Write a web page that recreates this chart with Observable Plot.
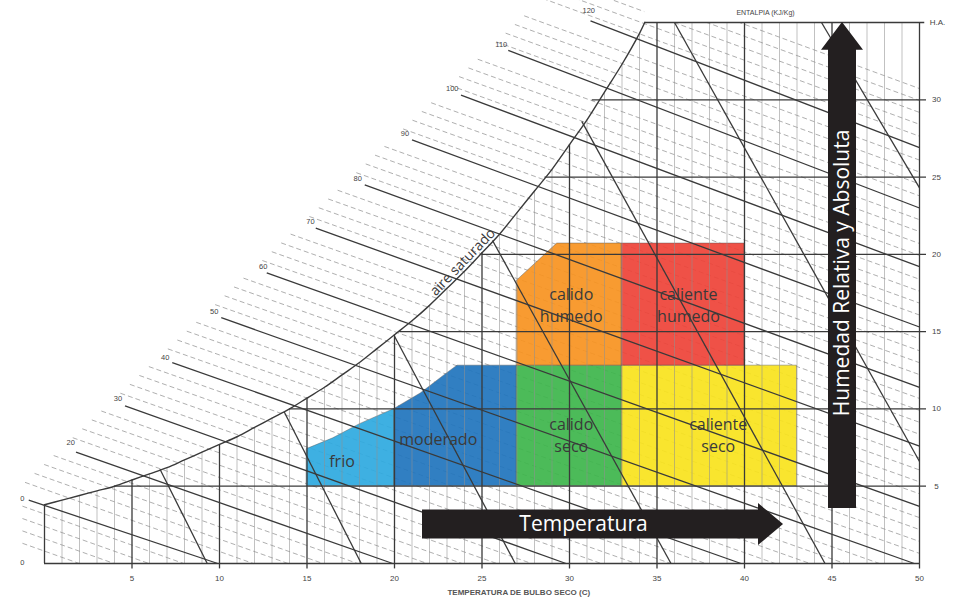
<!DOCTYPE html>
<html><head><meta charset="utf-8">
<script src="https://cdn.jsdelivr.net/npm/d3@7"></script>
<script src="https://cdn.jsdelivr.net/npm/@observablehq/plot@0.6"></script>
<style>
html,body{margin:0;padding:0;background:#fff;}
#chart svg{display:block;}
</style></head><body><div id="chart"></div>
<script>
// ---------- axes / tick labels ----------
const xTicks = [5,10,15,20,25,30,35,40,45,50];
const yTicks = [5,10,15,20,25,30];
const yTickStartT = [4.0,14.0,20.3,25.0,28.6,31.3]; // where each H.A. row meets the saturation curve

// ---------- saturation curve (dry bulb °C, humidity ratio g/kg) ----------
const satT = [0,1,2,3,4,5,6,7,8,9,10,11,12,13,14,15,16,17,18,19,20,21,22,23,24,25,26,27,28,29,30,31,32,33,34,34.3];
const satW = [3.8,4.1,4.4,4.7,5.0,5.4,5.8,6.2,6.7,7.2,7.7,8.2,8.8,9.4,10.0,10.7,11.4,12.2,13.0,13.9,14.8,15.7,16.7,17.8,18.9,20.1,21.3,22.7,24.1,25.5,27.1,28.7,30.5,32.3,34.3,35.0];

// ---------- enthalpy lines (kJ/kg) ----------
const hMajor  = [10,20,30,40,50,60,70,80,90,100,110,120];
const hStartT = [-0.9,1.8,4.6,7.3,10.1,12.7,15.5,18.3,21.0,23.8,26.5,31.2];
const hStartW = [4.1,7.2,10.2,13.0,15.9,18.8,21.7,24.5,27.4,30.3,33.2,35.1];
const hEndT   = [9.9,19.9,29.8,39.8,49.7,50,50,50,50,50,50,50];
const hEndW   = [0,0,0,0,0,3.7,7.6,11.4,15.3,19.2,23.0,26.9];
const hLabelText = ["0","0","20","30","40","50","60","70","80","90","100","110","120"];
const hLabelT = [-1.26,-1.26,1.5,4.2,6.9,9.7,12.5,15.2,17.9,20.6,23.3,26.1,31.1];
const hLabelW = [0.05,4.2,7.8,10.7,13.3,16.3,19.2,22.1,24.9,27.8,30.7,33.6,35.8];
const hMinor = [2,4,6,8,12,14,16,18,22,24,26,28,32,34,36,38,42,44,46,48,52,54,56,58,62,64,66,68,72,74,76,78,82,84,86,88,92,94,96,98,102,104,106,108,112,114,116,118,122,124,126,128,130];
// boundary where the light dashed lines begin (upper-left)
const dashEdgeT = [-2.2, 25.3];
const dashEdgeW = [4.1, 33.2];

// ---------- specific volume lines (steep) ----------
const volT1 = [6.6,13.7,20.0,25.6,30.7,36.0,44.4];
const volW1 = [6.1,9.8,14.7,20.9,28.6,35.0,35.0];
const volT2 = [9.3,18.1,26.9,35.8,44.6,50,50];
const volW2 = [0,0,0,0,0,6.6,24.3];

// ---------- comfort zones ----------
const zoneNames  = ["frio","moderado","calido seco","caliente seco","calido humedo","caliente humedo"];
const zoneColors = ["#2ea9e0","#1f74bd","#3db54b","#f8e31c","#f7921f","#ee4237"];
const zoneT  = [[15,16.5,18,20],[20,21.5,23,23.6,27],[27,33],[33,43],[27,29.3,33],[33,40]];
const zoneLo = [[5,5,5,5],[5,5,5,5,5],[5,5],[5,5],[12.8,12.8,12.8],[12.8,12.8]];
const zoneHi = [[7.4,8.1,9.0,10.0],[10.0,11.0,12.3,12.8,12.8],[12.8,12.8],[12.8,12.8],[18.3,20.7,20.7],[20.7,20.7]];
const zoneLabelText = ["frio","moderado","calido\nseco","caliente\nseco","calido\nhumedo","caliente\nhumedo"];
const zoneLabelT = [17.0,22.5,30.1,38.5,30.1,36.8];
const zoneLabelW = [6.7,8.1,8.4,8.4,16.8,16.8];

// ---------- big arrows ----------
const tempArrow = {t0:21.6, tHead:40.8, tTip:42.23, w:2.52, body:0.94, head:1.36, label:"Temperatura", labelT:30.8, labelW:2.55};
const humArrow  = {w0:3.56, wHead:33.2, wTip:35.0, t:45.6, body:0.8, head:1.2, label:"Humedad Relativa y Absoluta", labelT:45.6, labelW:18.8};

// ================= build mark tables =================
const sat = satT.map((t,i)=>({t, w: satW[i]}));
const satTop = t => { const i = satT.indexOf(t); return i >= 0 ? satW[i] : 35; };
const verticals = d3.range(1,50).map(t => ({t, top: t <= 34 ? satTop(t) : 35, major: t % 5 === 0}));
const rows = yTicks.map((w,i)=>({w, t0: yTickStartT[i]}));
const enth = hMajor.map((h,i)=>({h, t1:hStartT[i], w1:hStartW[i], t2:hEndT[i], w2:hEndW[i]}));
const enthLabels = hLabelText.map((s,i)=>({s, t:hLabelT[i], w:hLabelW[i]}));
const vols = volT1.map((t,i)=>({t1:t, w1:volW1[i], t2:volT2[i], w2:volW2[i]}));

// minor enthalpy grid lines (like gridlines between the labelled ones)
const Wh = (h,t) => (h - 1.006*t)/(2.501 + 0.00186*t);
const edge = t => dashEdgeW[0] + (dashEdgeW[1]-dashEdgeW[0])*(t-dashEdgeT[0])/(dashEdgeT[1]-dashEdgeT[0]);
const minor = hMinor.map(h => {
  let lo = -6, hi = 50;
  for (let k=0;k<60;k++){ const m=(lo+hi)/2; if (Wh(h,m) > edge(m)) lo=m; else hi=m; }
  const t1 = Math.max(lo, -1.26);
  const t2 = h/1.006 <= 50 ? h/1.006 : 50;
  return {t1, w1: Wh(h,t1), t2, w2: t2 === 50 ? Wh(h,50) : 0};
});
const mask = [{x1: satT[satT.length-1], x2: 53, y1: satW[satW.length-1], y2: 38}];

const zoneRows = zoneNames.map((z,i)=> zoneT[i].map((t,j)=>({z, t, lo: zoneLo[i][j], hi: zoneHi[i][j]})));
const zoneLabels = zoneLabelText.map((s,i)=>({s, t: zoneLabelT[i], w: zoneLabelW[i]}));

const A = tempArrow;
const tempShape = [
  {x:A.t0, lo:A.w-A.body, hi:A.w+A.body},
  {x:A.tHead, lo:A.w-A.body, hi:A.w+A.body},
  {x:A.tHead, lo:A.w-A.head, hi:A.w+A.head},
  {x:A.tTip, lo:A.w, hi:A.w}
];
const B = humArrow;
const humShape = [
  {y:B.w0, lo:B.t-B.body, hi:B.t+B.body},
  {y:B.wHead, lo:B.t-B.body, hi:B.t+B.body},
  {y:B.wHead, lo:B.t-B.head, hi:B.t+B.head},
  {y:B.wTip, lo:B.t, hi:B.t}
];

const dark = "#3a3a3a";
const marks = [];
marks.push(Plot.link(minor, {x1:"t1", y1:"w1", x2:"t2", y2:"w2", stroke:"#9a9a9a", strokeWidth:0.8, strokeDasharray:"5,3"}));
marks.push(Plot.rect(mask, {x1:"x1", x2:"x2", y1:"y1", y2:"y2", fill:"white"}));
zoneRows.forEach((rowsZ,i)=>{
  marks.push(Plot.areaY(rowsZ, {x:"t", y1:"lo", y2:"hi", fill: zoneColors[i], fillOpacity:0.92, stroke:"#555", strokeOpacity:0.55, strokeWidth:0.8}));
});
marks.push(Plot.ruleX(verticals.filter(d=>!d.major), {x:"t", y1:0, y2:"top", stroke:"#8f8f8f", strokeWidth:0.7, strokeOpacity:0.8}));
marks.push(Plot.ruleX(verticals.filter(d=>d.major), {x:"t", y1:-0.35, y2:"top", stroke:dark, strokeWidth:1.3}));
marks.push(Plot.ruleX([50], {x:d=>d, y1:-0.35, y2:35, stroke:dark, strokeWidth:1.3}));
marks.push(Plot.ruleX([0], {x:d=>d, y1:0, y2:satW[0], stroke:dark, strokeWidth:1.3}));
marks.push(Plot.ruleY(rows, {y:"w", x1:"t0", x2:50.4, stroke:dark, strokeWidth:1.3}));
marks.push(Plot.ruleY([35], {y:d=>d, x1:satT[satT.length-1], x2:50.3, stroke:dark, strokeWidth:1.3}));
marks.push(Plot.ruleY([0], {y:d=>d, x1:0, x2:50, stroke:dark, strokeWidth:1.3}));
marks.push(Plot.line(sat, {x:"t", y:"w", stroke:dark, strokeWidth:1.4, curve:"catmull-rom"}));
marks.push(Plot.link(enth, {x1:"t1", y1:"w1", x2:"t2", y2:"w2", stroke:dark, strokeWidth:1.3}));
marks.push(Plot.link(vols, {x1:"t1", y1:"w1", x2:"t2", y2:"w2", stroke:dark, strokeWidth:1.3}));

// zone labels
marks.push(Plot.text(zoneLabels, {x:"t", y:"w", text:"s", fontSize:16, fontFamily:"Open Sans", fill:"#3a3a3a", lineHeight:1.38}));

// axis tick labels
marks.push(Plot.text(xTicks, {x:d=>d, y:0, dy:15, text:d=>String(d), fontSize:8, fill:"#444", fontFamily:"Liberation Sans"}));
marks.push(Plot.text(yTicks, {x:50, y:d=>d, dx:17, text:d=>String(d), fontSize:8, fill:"#444", fontFamily:"Liberation Sans"}));
marks.push(Plot.text(["H.A."], {x:50, y:35, dx:18, text:d=>d, fontSize:8, fill:"#444", fontFamily:"Liberation Sans"}));
marks.push(Plot.text(enthLabels, {x:"t", y:"w", text:"s", fontSize:7.5, fill:"#444", fontFamily:"Liberation Sans"}));
marks.push(Plot.text(["ENTALPIA (KJ/Kg)"], {x:41.2, y:35.65, text:d=>d, fontSize:7, fill:"#444", fontFamily:"Liberation Sans"}));
marks.push(Plot.text(["TEMPERATURA DE BULBO SECO (C)"], {x:27.1, y:0, dy:29, text:d=>d, fontSize:8, fontWeight:"bold", fill:"#555", fontFamily:"Liberation Sans Narrow, Liberation Sans"}));
marks.push(Plot.text(["aire saturado"], {x:23.9, y:19.5, text:d=>d, rotate:-46, fontSize:14, fill:"#3a3a3a", fontFamily:"Open Sans"}));

// arrows
marks.push(Plot.areaY(tempShape, {x:"x", y1:"lo", y2:"hi", fill:"#231f20", curve:"linear"}));
marks.push(Plot.areaX(humShape, {y:"y", x1:"lo", x2:"hi", fill:"#231f20", curve:"linear"}));
marks.push(Plot.text([A.label], {x:A.labelT, y:A.labelW, text:d=>d, fill:"white", fontSize:21, fontFamily:"Open Sans"}));
marks.push(Plot.text([B.label], {x:B.labelT, y:B.labelW, text:d=>d, fill:"white", fontSize:21, rotate:-90, fontFamily:"Open Sans"}));

const chart = Plot.plot({
  width: 953, height: 601,
  marginLeft: 44, marginRight: 34, marginTop: 22, marginBottom: 38,
  x: {domain: [0,50], axis: null},
  y: {domain: [0,35], axis: null},
  style: {background: "white", overflow: "visible"},
  marks
});
document.getElementById("chart").appendChild(chart);
</script>
</body></html>
